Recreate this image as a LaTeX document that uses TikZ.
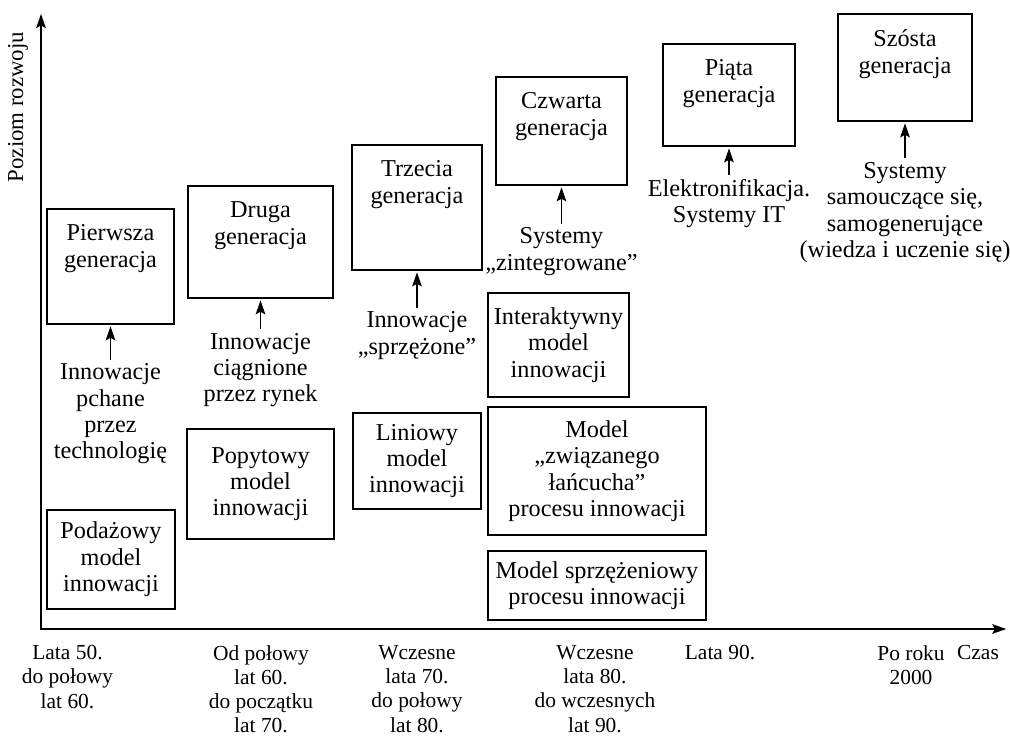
\documentclass[tikz,border=0pt]{standalone}
\usepackage{fontspec}
\setmainfont{Liberation Serif}
\usepackage{tikz}
\usetikzlibrary{arrows.meta}

\begin{document}
\begin{tikzpicture}[x=0.02cm,y=-0.02cm]
\useasboundingbox (0,0) rectangle (1010,739);
                \begin{scope}[->,>={Stealth[length=8pt,width=5.5pt,inset=1.5pt]},shorten >=1pt,line width=0.7pt,
                  every node/.style={font=\fontsize{13.8}{15}\selectfont,align=center},
                  gen node/.style={rectangle,draw,inner sep=0pt},
                  model node/.style={rectangle,draw,inner sep=1pt},
                  note node/.style={inner sep=2pt},
                  time node/.style={anchor=north,inner sep=1pt,font=\fontsize{12.2}{13.8}\selectfont},
                  gen title/.style={anchor=north,yshift=-2mm}]
                % axes
                \coordinate (o) at (41,629);
                \coordinate (ytop) at (41,14);
                \coordinate (xend) at (1008,629);
                \draw[<->] (ytop) -- (o) -- (xend);
                \node[rotate=90,font=\fontsize{13}{15}\selectfont] (ylab) at (18,107) {Poziom rozwoju};
                % generations
                \node[gen node,minimum width=2.54cm,minimum height=2.30cm,label={[gen title]north:{Pierwsza\\generacja}}] (g1) at (110.5,266.5) {};
                \node[gen node,minimum width=2.90cm,minimum height=2.24cm,label={[gen title]north:{Druga\\generacja}}] (g2) at (260.5,242) {};
                \node[gen node,minimum width=2.60cm,minimum height=2.50cm,label={[gen title]north:{Trzecia\\generacja}}] (g3) at (417,207.5) {};
                \node[gen node,minimum width=2.62cm,minimum height=2.16cm,label={[gen title]north:{Czwarta\\generacja}}] (g4) at (561.5,131) {};
                \node[gen node,minimum width=2.64cm,minimum height=2.04cm,label={[gen title]north:{Piąta\\generacja}}] (g5) at (729,95) {};
                \node[gen node,minimum width=2.68cm,minimum height=2.14cm,label={[gen title]north:{Szósta\\generacja}}] (g6) at (905,67.5) {};
                % what drives them
                \node[note node] (n1) at (110.5,414) {Innowacje\\pchane\\przez\\technologię};
                \node[note node] (n2) at (260.5,370) {Innowacje\\ciągnione\\przez rynek};
                \node[note node] (n3) at (417,335.5) {Innowacje\\„sprzężone”};
                \node[note node] (n4) at (561.5,251.5) {Systemy\\„zintegrowane”};
                \node[note node] (n5) at (729,203.5) {Elektronifikacja.\\Systemy IT};
                \node[note node] (n6) at (905,212.5) {Systemy\\samouczące się,\\samogenerujące\\(wiedza i uczenie się)};
                \path
                (n1) edge (g1)
                (n2) edge (g2)
                (n3) edge (g3)
                (n4) edge (g4)
                (n5) edge (g5)
                (n6) edge (g6);
                % models
                \node[model node,minimum width=2.56cm,minimum height=1.98cm] (m1) at (111,559.5) {Podażowy\\model\\innowacji};
                \node[model node,minimum width=2.94cm,minimum height=2.20cm] (m2) at (260.5,484) {Popytowy\\model\\innowacji};
                \node[model node,minimum width=2.56cm,minimum height=1.92cm] (m3) at (417,461) {Liniowy\\model\\innowacji};
                \node[model node,minimum width=2.82cm,minimum height=2.08cm] (m4) at (558.5,345) {Interaktywny\\model\\innowacji};
                \node[model node,minimum width=4.36cm,minimum height=2.56cm] (m5) at (597,471) {Model\\„związanego\\łańcucha”\\procesu innowacji};
                \node[model node,minimum width=4.36cm,minimum height=1.38cm] (m6) at (597,585.5) {Model sprzężeniowy\\procesu innowacji};
                % time
                \node[time node] (t1) at (67.5,643) {Lata 50.\\do połowy\\lat 60.};
                \node[time node] (t2) at (261,643) {Od połowy\\lat 60.\\do początku\\lat 70.};
                \node[time node] (t3) at (417,643) {Wczesne\\lata 70.\\do połowy\\lat 80.};
                \node[time node] (t4) at (595,643) {Wczesne\\lata 80.\\do wczesnych\\lat 90.};
                \node[time node] (t5) at (720,643) {Lata 90.};
                \node[time node] (t6) at (911,643) {Po roku\\2000};
                \node[time node] (t7) at (978,643) {Czas};
                \end{scope}
\end{tikzpicture}
\end{document}
